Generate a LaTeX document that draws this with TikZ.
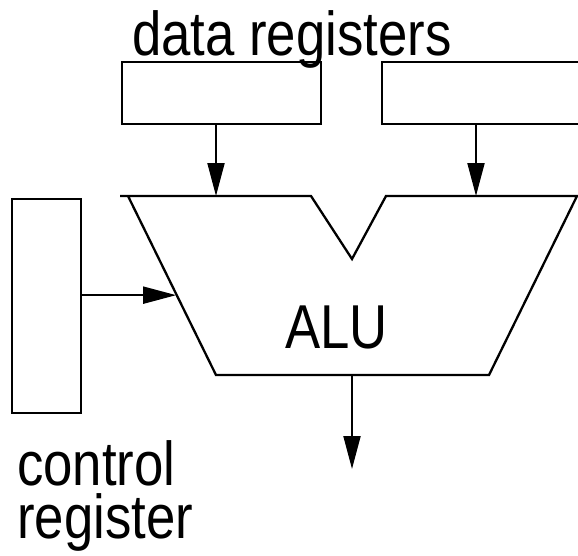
\documentclass[tikz,border=0pt]{standalone}
\usepackage{fontspec}
\setmainfont{Liberation Sans}
\usetikzlibrary{arrows.meta,calc}
\newcommand{\narrow}[1]{\scalebox{0.85}[1]{#1}}
\begin{document}
\begin{tikzpicture}[x=1pt,y=-1pt,line width=2.3pt,
  reg/.style={draw,rectangle,inner sep=0pt,anchor=north west},
  lbl/.style={inner sep=0pt,anchor=base west,font=\fontsize{62}{62}\selectfont},
  flow/.style={-{Triangle[length=33pt,width=17pt]},line width=2pt}]
\useasboundingbox (0,0) rectangle (578,555);
\clip (0,0) rectangle (578,555);

% registers
\node[reg,minimum width=199pt,minimum height=62pt] (dl) at (121,61) {};
\node[reg,minimum width=220pt,minimum height=62pt] (dr) at (381,61) {};
\node[reg,minimum width=69pt,minimum height=214pt] (ctl) at (11,198) {};

% ALU outline
\coordinate (tl) at (128,196);
\coordinate (bl) at (216,375);
\coordinate (br) at (489,375);
\coordinate (tr) at (577,196);
\coordinate (notch) at (352,259);
\draw[line join=miter] (120,196) -- (311,196) -- (notch) -- (386,196) -- (tr)
  -- (br) -- (bl) -- (tl);
\coordinate (alutop) at (0,196);
\coordinate (aluin) at ($(tl)!0.547!(bl)$);
\coordinate (aluout) at (352,375);
\coordinate (result) at (352,469);

% connectors
\draw[flow] ([xshift=95pt]dl.south west) -- ([xshift=95pt]dl.south west |- alutop);
\draw[flow] ([xshift=95pt]dr.south west) -- ([xshift=95pt]dr.south west |- alutop);
\draw[flow] ([yshift=11pt]ctl.east) coordinate (cp) -- (cp -| aluin);
\draw[flow] (aluout) -- (result);

% labels
\node[lbl] (dlab) at (131,55) {\narrow{data registers}};
\node[lbl] (alab) at (284,348) {\narrow{ALU}};
\node[lbl] (clab) at (16,485) {\narrow{control}};
\node[lbl] (rlab) at (16,538) {\narrow{register}};
\end{tikzpicture}
\end{document}
